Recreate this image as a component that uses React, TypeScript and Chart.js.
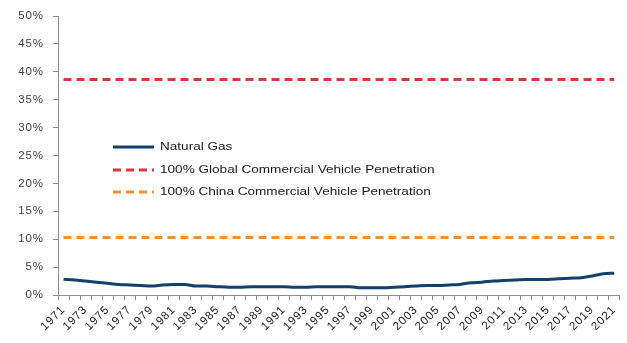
import React, { useEffect, useRef } from "react";
import { Chart, registerables } from "chart.js";

Chart.register(...registerables);

// Years on the category axis
const years: string[] = Array.from({ length: 51 }, (_, i) => String(1971 + i));

// Natural gas share (%) by year, 1971–2021
const naturalGas: number[] = [
  2.8, 2.7, 2.5, 2.3, 2.1, 1.9, 1.8, 1.7, 1.6, 1.8,
  1.9, 1.9, 1.6, 1.6, 1.5, 1.4, 1.4, 1.5, 1.5, 1.5,
  1.5, 1.4, 1.4, 1.5, 1.5, 1.5, 1.5, 1.3, 1.3, 1.3,
  1.4, 1.5, 1.6, 1.7, 1.7, 1.8, 1.9, 2.2, 2.3, 2.5,
  2.6, 2.7, 2.8, 2.8, 2.8, 2.9, 3.0, 3.1, 3.4, 3.8,
  3.9,
];

// Reference levels (%)
const globalCvPenetration = 38.6;
const chinaCvPenetration = 10.3;

const yTicks: number[] = [0, 5, 10, 15, 20, 25, 30, 35, 40, 45, 50];

const seriesLabels: string[] = [
  "Natural Gas",
  "100% Global Commercial Vehicle Penetration",
  "100% China Commercial Vehicle Penetration",
];

const NAVY = "#123f6c";
const RED = "#d5393f";
const ORANGE = "#f7902f";
const FONT = "'Liberation Sans', Arial, sans-serif";
const TICK_SPACING = "0.9px";

// Slightly wider tracking for the axis labels
const tracking = {
  id: "tracking",
  beforeLayout(chart: any) {
    chart.ctx.letterSpacing = TICK_SPACING;
  },
  beforeDraw(chart: any) {
    chart.ctx.letterSpacing = TICK_SPACING;
  },
};

// Legend drawn inside the plot area
const legendInside = {
  id: "legendInside",
  afterDraw(chart: any) {
    const ctx = chart.ctx as CanvasRenderingContext2D;
    const items = chart.data.datasets.map((d: any) => ({
      label: d.label,
      color: d.borderColor,
      dash: d.borderDash || [],
    }));
    const x0 = 113;
    const x1 = 154;
    const tx = 160;
    const rows = [147, 170, 192];
    ctx.save();
    (ctx as any).letterSpacing = "0px";
    items.forEach((it: any, i: number) => {
      const y = rows[i];
      ctx.beginPath();
      ctx.setLineDash(it.dash);
      ctx.strokeStyle = it.color;
      ctx.lineWidth = 3;
      ctx.moveTo(x0, y);
      ctx.lineTo(x1, y);
      ctx.stroke();
      ctx.setLineDash([]);
      ctx.save();
      ctx.translate(tx, y);
      ctx.scale(1.18, 1);
      ctx.fillStyle = "#1a1a1a";
      ctx.font = `11.5px ${FONT}`;
      ctx.textBaseline = "middle";
      ctx.textAlign = "left";
      ctx.fillText(it.label, 0, 0);
      ctx.restore();
    });
    ctx.restore();
  },
};

export default function App() {
  const ref = useRef<HTMLCanvasElement | null>(null);

  useEffect(() => {
    if (!ref.current) return;
    const chart = new Chart(ref.current, {
      type: "line",
      data: {
        labels: years,
        datasets: [
          {
            label: seriesLabels[0],
            data: naturalGas,
            borderColor: NAVY,
            borderWidth: 3,
            pointRadius: 0,
            cubicInterpolationMode: "monotone",
          },
          {
            label: seriesLabels[1],
            data: years.map(() => globalCvPenetration),
            borderColor: RED,
            borderWidth: 3,
            borderDash: [8, 5],
            pointRadius: 0,
          },
          {
            label: seriesLabels[2],
            data: years.map(() => chinaCvPenetration),
            borderColor: ORANGE,
            borderWidth: 3,
            borderDash: [8, 5],
            pointRadius: 0,
          },
        ],
      },
      options: {
        animation: false,
        responsive: false,
        layout: { padding: { top: 16, right: 3, left: 0, bottom: 0 } },
        plugins: { legend: { display: false }, tooltip: { enabled: false } },
        scales: {
          x: {
            type: "category",
            offset: true,
            grid: {
              display: true,
              drawOnChartArea: false,
              drawTicks: true,
              tickLength: 5,
              color: "#8c8c8c",
              offset: true,
            },
            border: { display: true, color: "#8c8c8c", width: 1 },
            ticks: {
              autoSkip: false,
              maxRotation: 45,
              minRotation: 45,
              color: "#1a1a1a",
              font: { family: FONT, size: 11.5 },
              padding: 3,
              callback: (_v: any, i: number) => (i % 2 === 0 ? years[i] : ""),
            },
            afterFit: (s: any) => {
              s.height = 48;
            },
          },
          y: {
            min: 0,
            max: 50,
            afterBuildTicks: (s: any) => {
              s.ticks = yTicks.map((v) => ({ value: v }));
            },
            grid: {
              display: true,
              drawOnChartArea: false,
              drawTicks: true,
              tickLength: 5,
              color: "#8c8c8c",
            },
            border: { display: true, color: "#8c8c8c", width: 1 },
            ticks: {
              color: "#404040",
              font: { family: FONT, size: 11.5 },
              padding: 9,
              callback: (v: any) => `${v}%`,
            },
            afterFit: (s: any) => {
              s.width = 58;
            },
          },
        },
      },
      plugins: [tracking, legendInside],
    } as any);
    return () => chart.destroy();
  }, []);

  return (
    <div style={{ position: "absolute", left: 0, top: 0, width: 627, height: 343, background: "#fff" }}>
      <canvas ref={ref} width={627} height={343} style={{ display: "block" }} />
    </div>
  );
}
